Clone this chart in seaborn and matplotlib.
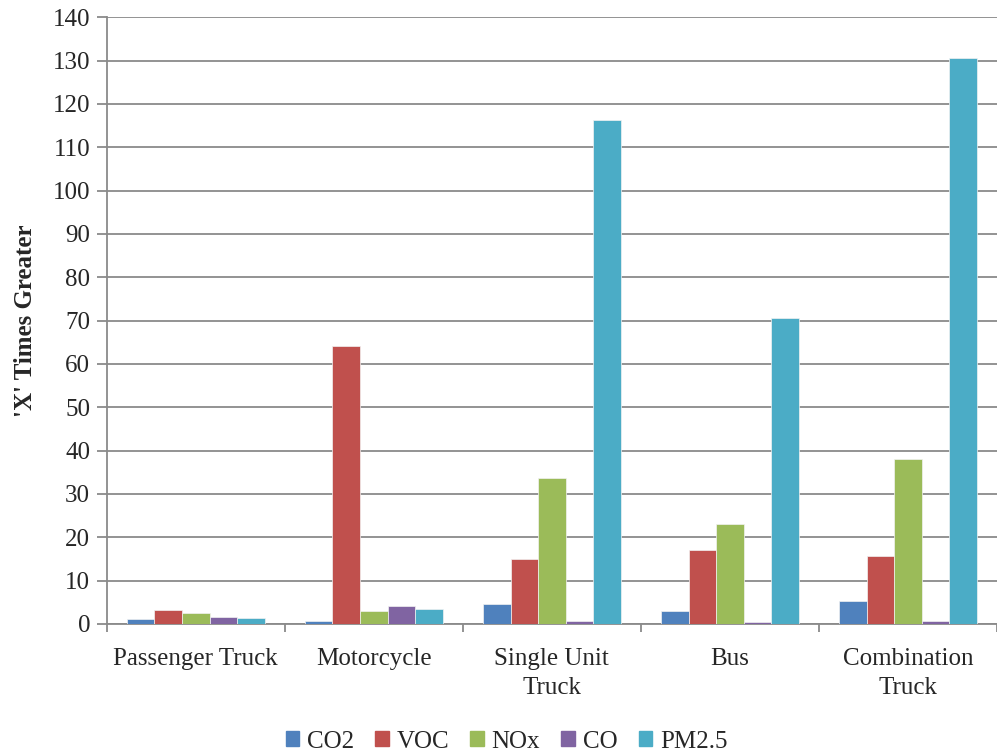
import pandas as pd
import numpy as np
import matplotlib
matplotlib.use("Agg")
import matplotlib.pyplot as plt
import seaborn as sns

# values
vehicles = ["Passenger Truck", "Motorcycle", "Single Unit\nTruck", "Bus", "Combination\nTruck"]
pollutants = ["CO2", "VOC", "NOx", "CO", "PM2.5"]
co2 = [1.2, 0.6, 4.6, 3.0, 5.3]
voc = [3.2, 64.2, 14.9, 17.1, 15.8]
nox = [2.5, 3.1, 33.8, 23.1, 38.1]
co = [1.6, 4.2, 0.7, 0.5, 0.7]
pm25 = [1.3, 3.4, 116.4, 70.6, 130.6]
colors = ["#4F81BD", "#C0504D", "#9BBB59", "#8064A2", "#4BACC6"]

df = pd.DataFrame({"vehicle": vehicles, "CO2": co2, "VOC": voc, "NOx": nox, "CO": co, "PM2.5": pm25})
long_df = df.melt(id_vars="vehicle", var_name="pollutant", value_name="times")

sns.set_style("white")
plt.rcParams['font.family'] = ['Liberation Serif', 'DejaVu Serif']

fig = plt.figure(figsize=(9.97, 7.52), dpi=100)
ax = fig.add_axes([106.7 / 997, 1 - 624 / 752, (997 - 106.7) / 997, (624 - 17.3) / 752])

sns.barplot(data=long_df, x="vehicle", y="times", hue="pollutant", hue_order=pollutants,
            palette=colors, width=0.774, gap=0, saturation=1, ax=ax, zorder=3,
            edgecolor="#f2f2f2", linewidth=0.5)

ax.set_ylim(0, 140)
ax.set_yticks(np.arange(0, 141, 10))
ax.set_xlim(-0.5, 4.474)
ax.grid(axis="y", color="#8a8a8a", linewidth=1.3, zorder=0)
ax.set_axisbelow(True)

for s in ["top", "right"]:
    ax.spines[s].set_visible(False)
for s in ["left", "bottom"]:
    ax.spines[s].set_color("#8a8a8a")
    ax.spines[s].set_linewidth(1.3)

# x ticks at the category boundaries, labels at the centres
ax.set_xticks(np.arange(-0.5, 4.6, 1))
ax.set_xticklabels([])
ax.set_xticks(np.arange(0, 5), minor=True)
ax.set_xticklabels(vehicles, minor=True, fontsize=18, linespacing=1.45)
ax.tick_params(axis="x", which="major", direction="out", length=6, width=1.3, color="#8a8a8a", bottom=True)
ax.tick_params(axis="x", which="minor", length=0, pad=17)
ax.tick_params(axis="y", direction="out", length=7, width=1.3, color="#8a8a8a", left=True, labelsize=18, pad=5)

ax.set_xlabel("")
ax.set_ylabel("'X' Times Greater", fontsize=18, fontweight="bold", labelpad=11)

ax.get_legend().remove()
handles = [plt.Rectangle((0, 0), 1, 1, color=c) for c in colors]
fig.legend(handles, pollutants, loc="lower center", bbox_to_anchor=(0.508, -0.031), ncol=5,
           frameon=False, fontsize=18, handlelength=0.55, handleheight=0.55, handletextpad=0.3,
           columnspacing=0.85)

fig.savefig("out.png", dpi=100)
